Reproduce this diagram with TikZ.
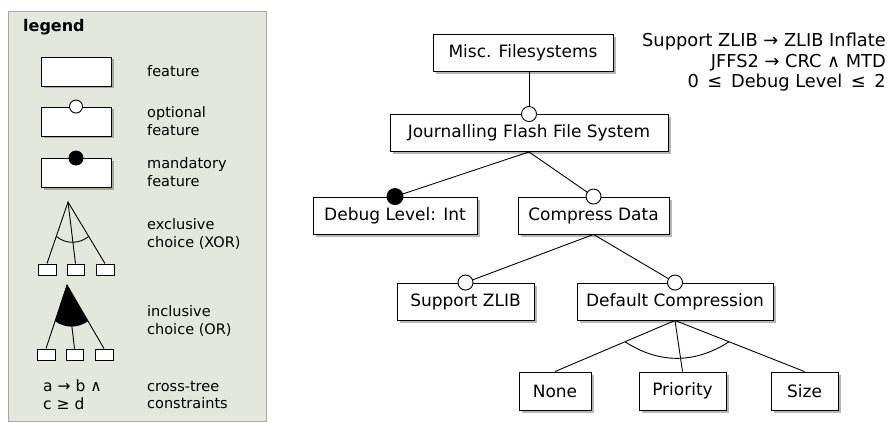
\documentclass[tikz,border=0pt]{standalone}
\usepackage{fontspec}
\setmainfont{DejaVu Sans}
\usetikzlibrary{shadows,calc}
\definecolor{legbg}{HTML}{E3E7DC}
\definecolor{legborder}{HTML}{A8A8A8}
\tikzset{
  feat/.style={draw=black, line width=0.9pt, fill=white, inner sep=0pt,
    minimum height=37pt, font=\fontsize{17}{20}\selectfont,
    drop shadow={shadow xshift=2.5pt, shadow yshift=-2.5pt, opacity=0.4, fill=black!70}},
  legfeat/.style={feat, minimum width=70pt, minimum height=29pt},
  sbox/.style={draw=black, line width=0.9pt, fill=white, inner sep=0pt,
    minimum width=18pt, minimum height=11pt,
    drop shadow={shadow xshift=1.2pt, shadow yshift=-1.2pt, opacity=0.35, fill=black!70}},
  optc/.style={circle, draw=black, fill=white, line width=0.9pt, minimum size=15pt, inner sep=0pt},
  mandc/.style={circle, draw=black, fill=black, line width=0.9pt, minimum size=16pt, inner sep=0pt},
  conn/.style={draw=black, line width=0.9pt},
  legtext/.style={anchor=west, align=left, inner sep=0pt, font=\fontsize{14.5}{17.5}\selectfont},
  constext/.style={anchor=north east, align=right, inner sep=0pt, font=\fontsize{17.8}{20.5}\selectfont}
}
\begin{document}
\begin{tikzpicture}[x=1pt,y=-1pt]
\useasboundingbox (0,0) rectangle (888,422);
% ---------- legend ----------
\node[draw=legborder, line width=1.4pt, fill=legbg, minimum width=258pt, minimum height=410pt,
  inner sep=0pt, anchor=north west] (legbox) at (8,11) {};
\node[anchor=west, inner sep=0pt, font=\fontsize{16}{18}\selectfont\bfseries] (legtitle) at (23,27) {legend};

\node[legfeat] (l1) at (76,71.5) {};
\node[legtext] (t1) at (147,71) {feature};

\node[legfeat] (l2) at (76,121.5) {};
\node[optc, minimum size=13pt] (l2c) at (l2.north) {};
\node[legtext] (t2) at (147,121) {optional\\feature};

\node[legfeat] (l3) at (76,173) {};
\node[mandc, minimum size=14pt] (l3c) at (l3.north) {};
\node[legtext] (t3) at (147,172) {mandatory\\feature};

% XOR
\coordinate (xa) at (68,202);
\node[sbox] (xb1) at (47,269.5) {};
\node[sbox, minimum width=17pt] (xb2) at (75.5,269.5) {};
\node[sbox] (xb3) at (105,269.5) {};
\draw[conn] (xb1.north) -- (xa) -- (xb3.north);
\draw[conn] (xa) -- (xb2.north);
\coordinate (xp1) at ($(xa)!0.56!(xb1.north)$);
\coordinate (xp2) at ($(xa)!0.56!(xb3.north)$);
\draw[conn] (xp1) to[bend right=38] (xp2);
\node[legtext] (t4) at (147,234) {exclusive\\choice (XOR)};

% OR
\coordinate (oa) at (67,285);
\node[sbox] (ob1) at (46,354.5) {};
\node[sbox, minimum width=17pt] (ob2) at (74.5,354.5) {};
\node[sbox] (ob3) at (104,354.5) {};
\draw[conn] (ob1.north) -- (oa) -- (ob3.north);
\draw[conn] (oa) -- (ob2.north);
\coordinate (op1) at ($(oa)!0.57!(ob1.north)$);
\coordinate (op2) at ($(oa)!0.57!(ob3.north)$);
\fill[black] (oa) -- (op1) to[bend right=34] (op2) -- cycle;
\node[legtext] (t5) at (147,321) {inclusive\\choice (OR)};

\node[legtext, font=\fontsize{15.5}{18}\selectfont] (t6) at (43,395) {a → b ∧\\c ≥ d};
\node[legtext] (t7) at (147,395) {cross-tree\\constraints};

% ---------- feature model ----------
\node[feat, minimum width=180pt] (misc) at (523,53) {Misc. Filesystems};
\node[feat, minimum width=278pt] (jf) at (529,133) {Journalling Flash File System};
\node[feat, minimum width=164pt] (dbg) at (395,215.5) {Debug Level: Int};
\node[feat, minimum width=151pt] (cd) at (593.5,215.5) {Compress Data};
\node[feat, minimum width=137pt] (zlib) at (465.5,301.5) {Support ZLIB};
\node[feat, minimum width=196pt] (dc) at (675,301.5) {Default Compression};
\node[feat, minimum width=72pt, minimum height=38pt] (none) at (555,391) {None};
\node[feat, minimum width=87pt, minimum height=38pt] (prio) at (682.5,391) {Priority};
\node[feat, minimum width=67pt, minimum height=38pt] (size) at (804.5,391) {Size};

\coordinate (jfn) at (jf.north);
\draw[conn] (jfn) -- (jfn |- misc.south);
\draw[conn] (jf.south) -- (dbg.north);
\draw[conn] (jf.south) -- (cd.north);
\draw[conn] (cd.south) -- (zlib.north);
\draw[conn] (cd.south) -- (dc.north);
\draw[conn] (dc.south) -- (none.north);
\draw[conn] (dc.south) -- (prio.north);
\draw[conn] (dc.south) -- (size.north);
\coordinate (dp1) at ($(dc.south)!0.417!(none.north)$);
\coordinate (dp2) at ($(dc.south)!0.417!(size.north)$);
\draw[conn] (dp1) to[bend right=33] (dp2);

\node[optc] (jfc) at (jf.north) {};
\node[mandc] (dbgc) at (dbg.north) {};
\node[optc] (cdc) at (cd.north) {};
\node[optc] (zlibc) at (zlib.north) {};
\node[optc] (dcc) at (dc.north) {};

\node[constext] (cons) at (886,33) {Support ZLIB → ZLIB Inflate\\JFFS2 → CRC ∧ MTD\\0\hspace{3pt} ≤\hspace{3pt} Debug Level\hspace{3pt} ≤\hspace{3pt} 2};
\end{tikzpicture}
\end{document}
